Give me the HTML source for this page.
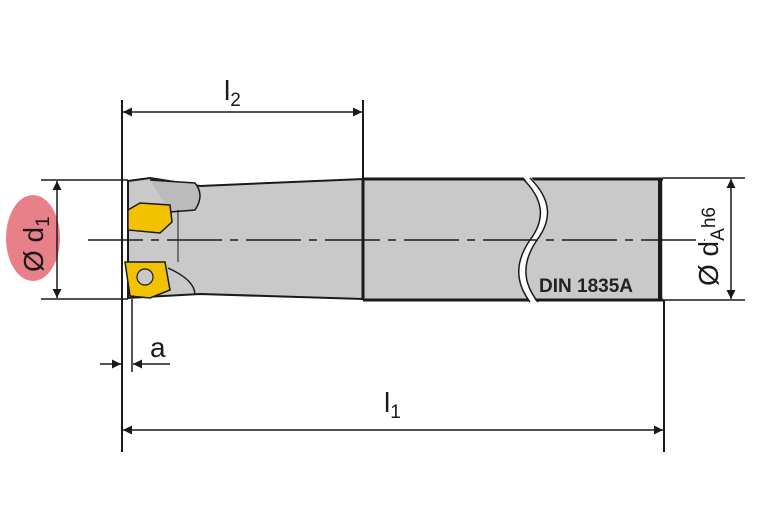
<!DOCTYPE html>
<html><head><style>html,body{margin:0;padding:0;background:#fff}</style></head>
<body>
<svg width="767" height="523" viewBox="0 0 767 523" xmlns="http://www.w3.org/2000/svg" font-family="Liberation Sans, sans-serif">
<defs>
<marker id="ar" viewBox="0 0 10 10" refX="10" refY="5" markerWidth="17" markerHeight="9" orient="auto-start-reverse" markerUnits="userSpaceOnUse"><path d="M0,0 L10,5 L0,10 z" fill="#1a1a1a"/></marker>
</defs>
<ellipse cx="33" cy="238" rx="27" ry="43" fill="#e8808a"/>
<path d="M128,181 L150,178 L200,186 L363,179 L363,299 L200,294 L128,298 Z" fill="#c9c9c9" stroke="#1a1a1a" stroke-width="2"/>
<rect x="363" y="179" width="300" height="121" fill="#c9c9c9"/>
<line x1="363" y1="179" x2="663" y2="179" stroke="#1a1a1a" stroke-width="3"/>
<line x1="363" y1="300" x2="663" y2="300" stroke="#1a1a1a" stroke-width="3"/>
<line x1="363" y1="179" x2="363" y2="300" stroke="#1a1a1a" stroke-width="3"/>
<line x1="660" y1="179" x2="660" y2="300" stroke="#1a1a1a" stroke-width="4"/>
<path d="M522,176 C545,200 545,220 530,240 C515,262 515,282 532,304 L538,304 C522,282 522,262 537,240 C552,220 552,200 530,176 Z" fill="#fff"/>
<path d="M522,178 C545,200 545,220 530,240 C515,262 515,282 530,302" fill="none" stroke="#1a1a1a" stroke-width="1.5"/>
<path d="M530,178 C552,200 552,220 537,240 C522,262 522,282 538,302" fill="none" stroke="#1a1a1a" stroke-width="1.5"/>
<path d="M150,180 L195,183 Q205,195 195,210 L170,212" fill="#bbb" stroke="#1a1a1a" stroke-width="1.5"/>
<path d="M128,210 L140,203 L170,205 L172,222 L160,233 L128,230 Z" fill="#f2c200" stroke="#1a1a1a" stroke-width="1.5"/>
<path d="M125,262 L165,262 L170,290 L150,298 L130,296 Z" fill="#f2c200" stroke="#1a1a1a" stroke-width="1.5"/>
<circle cx="145" cy="277" r="8" fill="#c9c9c9" stroke="#1a1a1a" stroke-width="1.2"/>
<path d="M168,268 Q195,280 195,295" fill="none" stroke="#1a1a1a" stroke-width="1.5"/>
<line x1="178" y1="210" x2="178" y2="262" stroke="#1a1a1a" stroke-width="1"/>
<line x1="88" y1="240" x2="705" y2="240" stroke="#1a1a1a" stroke-width="1.5" stroke-dasharray="55,8,8,8"/>
<line x1="122" y1="100" x2="122" y2="452" stroke="#1a1a1a" stroke-width="2"/>
<line x1="363" y1="100" x2="363" y2="179" stroke="#1a1a1a" stroke-width="2"/>
<line x1="664" y1="300" x2="664" y2="452" stroke="#1a1a1a" stroke-width="2"/>
<line x1="132" y1="299" x2="132" y2="372" stroke="#1a1a1a" stroke-width="1.5"/>
<line x1="41" y1="180" x2="128" y2="180" stroke="#1a1a1a" stroke-width="1.5"/>
<line x1="41" y1="299" x2="128" y2="299" stroke="#1a1a1a" stroke-width="1.5"/>
<line x1="663" y1="178" x2="745" y2="178" stroke="#1a1a1a" stroke-width="1.5"/>
<line x1="663" y1="300" x2="745" y2="300" stroke="#1a1a1a" stroke-width="1.5"/>
<line x1="123" y1="112" x2="362" y2="112" stroke="#1a1a1a" stroke-width="1.5" marker-start="url(#ar)" marker-end="url(#ar)"/>
<line x1="123" y1="430" x2="663" y2="430" stroke="#1a1a1a" stroke-width="1.5" marker-start="url(#ar)" marker-end="url(#ar)"/>
<line x1="57" y1="181" x2="57" y2="298" stroke="#1a1a1a" stroke-width="1.5" marker-start="url(#ar)" marker-end="url(#ar)"/>
<line x1="731" y1="179" x2="731" y2="299" stroke="#1a1a1a" stroke-width="1.5" marker-start="url(#ar)" marker-end="url(#ar)"/>
<line x1="100" y1="364" x2="121" y2="364" stroke="#1a1a1a" stroke-width="1.5" marker-end="url(#ar)"/>
<line x1="170" y1="364" x2="133" y2="364" stroke="#1a1a1a" stroke-width="1.5" marker-end="url(#ar)"/>
<text x="224" y="100" font-size="28" fill="#1a1a1a">l<tspan font-size="19" dy="6">2</tspan></text>
<text x="384" y="412" font-size="28" fill="#1a1a1a">l<tspan font-size="19" dy="6">1</tspan></text>
<text x="150" y="357" font-size="28" fill="#1a1a1a">a</text>
<text transform="translate(43,272) rotate(-90)" font-size="28" fill="#1a1a1a">Ø d<tspan font-size="19" dy="6">1</tspan></text>
<text transform="translate(718,286) rotate(-90)" font-size="28" fill="#1a1a1a">Ø d<tspan font-size="19" dy="6">A</tspan><tspan font-size="19" dy="-9">h6</tspan></text>
<text x="539" y="292" font-size="19" font-weight="bold" fill="#222">DIN 1835A</text>
</svg>
</body></html>
